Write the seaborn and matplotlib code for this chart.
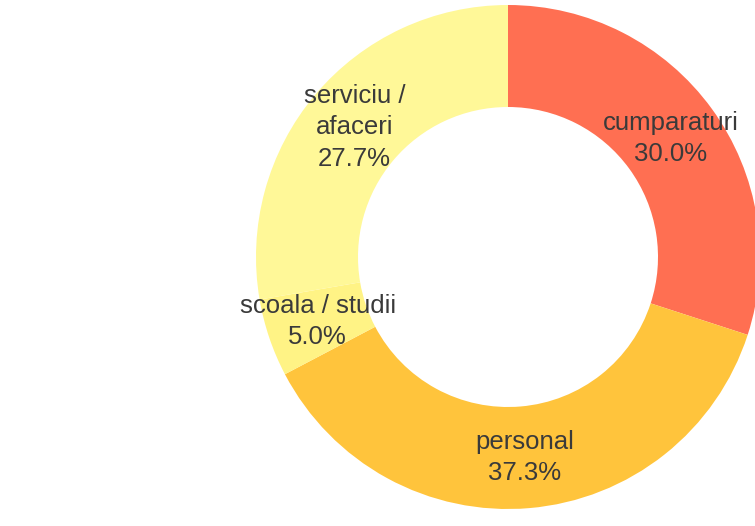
import numpy as np
import matplotlib
matplotlib.use("Agg")
import matplotlib.pyplot as plt
import seaborn as sns

# Trip purposes and their shares (%)
categories = ["cumparaturi", "personal", "scoala / studii", "serviciu /\nafaceri"]
shares = [30.0, 37.3, 5.0, 27.7]
colors = ["#FF6F52", "#FFC43C", "#FFF385", "#FFF898"]

sns.set_theme(style="white")
plt.rcParams["font.family"] = ["Liberation Sans", "DejaVu Sans"]

W, H = 755, 526
fig = plt.figure(figsize=(W / 100, H / 100), dpi=100)
ax = fig.add_axes([0, 0, 1, 1])

cx, cy = 508, H - 257
R, ring = 252, 102

ax.pie(
    shares, colors=colors, startangle=90, counterclock=False,
    center=(cx, cy), radius=R, frame=True,
    wedgeprops=dict(width=ring, linewidth=0),
)
ax.set_xlim(0, W)
ax.set_ylim(0, H)
ax.set_aspect("equal")
ax.axis("off")

# Labels at the middle of each ring segment
start = 90.0
for name, val in zip(categories, shares):
    sweep = val / sum(shares) * 360
    mid = np.deg2rad(start - sweep / 2)
    start -= sweep
    r = R - ring / 2
    x = cx + r * np.cos(mid)
    y = cy + r * np.sin(mid)
    ax.text(x, y, f"{name}\n{val:.1f}%", ha="center", va="center",
            fontsize=18.5, color="#3a3a3a", linespacing=1.38)

fig.savefig("out.png", dpi=100, facecolor="white")
